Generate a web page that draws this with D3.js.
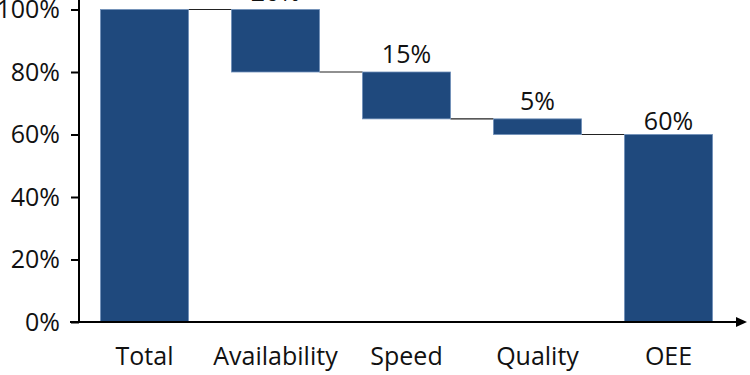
<!DOCTYPE html>
<html><head><meta charset="utf-8">
<script src="https://cdn.jsdelivr.net/npm/d3@7"></script>
<style>html,body{margin:0;padding:0;background:#fff;}svg{display:block;}</style>
</head><body>
<svg id="c" width="750" height="375"></svg>
<script>
const categories = ["Total", "Availability", "Speed", "Quality", "OEE"];
const values = [100, 20, 15, 5, 60];
const kinds = ["total", "decrease", "decrease", "decrease", "total"];
const showLabel = [false, true, true, true, true];
const yTicks = [0, 20, 40, 60, 80, 100];

const svg = d3.select("#c");
const font = "'Open Sans', sans-serif";
const fs = 25;
const barColor = "#1F497D";

const x = d3.scaleBand().domain(categories).range([79, 734]).paddingInner(0.328).paddingOuter(0.164);
const y = d3.scaleLinear().domain([0, 100]).range([322, 9.5]);

// compute waterfall
let running = 0;
const bars = categories.map((c, i) => {
  let lo, hi;
  if (kinds[i] === "total") { lo = 0; hi = values[i]; running = values[i]; }
  else { hi = running; lo = running - values[i]; running = lo; }
  return {c, lo, hi, v: values[i], end: running, kind: kinds[i], label: showLabel[i]};
});

// connectors
for (let i = 0; i < bars.length - 1; i++) {
  const lvl = bars[i].end;
  svg.append("line")
    .attr("x1", x(bars[i].c) + x.bandwidth()).attr("x2", x(bars[i+1].c))
    .attr("y1", y(lvl)).attr("y2", y(lvl))
    .attr("stroke", "#222").attr("stroke-width", 1.2);
}

svg.selectAll("rect.bar").data(bars).enter().append("rect")
  .attr("class", "bar")
  .attr("x", d => x(d.c)).attr("width", x.bandwidth())
  .attr("y", d => y(d.hi)).attr("height", d => y(d.lo) - y(d.hi))
  .attr("fill", barColor).attr("stroke", "#6f8fb8").attr("stroke-width", 0.8);

svg.selectAll("text.val").data(bars.filter(d => d.label)).enter().append("text")
  .attr("class", "val")
  .attr("x", d => x(d.c) + x.bandwidth() / 2)
  .attr("y", d => y(d.hi) - (d.kind === "total" ? 5 : 9))
  .attr("text-anchor", "middle")
  .attr("font-family", font).attr("font-size", fs).attr("fill", "#111")
  .text(d => d.v + "%");

// y axis
const yAxis = d3.axisLeft(y).tickValues(yTicks).tickFormat(d => d + "%").tickSize(8).tickPadding(11);
const gy = svg.append("g").attr("transform", "translate(79,0)").call(yAxis);
gy.select(".domain").attr("stroke", "#000").attr("stroke-width", 2).attr("d", `M0,${y(0)}V0`);
gy.selectAll(".tick line").attr("stroke", "#000").attr("stroke-width", 2);
gy.selectAll(".tick text").attr("font-family", font).attr("font-size", fs).attr("fill", "#111");

// x axis
const xAxis = d3.axisBottom(x).tickSize(0).tickPadding(25);
const gx = svg.append("g").attr("transform", `translate(0,${y(0)})`).call(xAxis);
gx.select(".domain").attr("stroke", "#000").attr("stroke-width", 2).attr("d", "M70,0H738");
gx.selectAll(".tick text").attr("font-family", font).attr("font-size", fs).attr("fill", "#111");
svg.append("path")
  .attr("d", `M736,${y(0)-5}L747,${y(0)}L736,${y(0)+5}Z`)
  .attr("fill", "#000");
</script>
</body></html>
